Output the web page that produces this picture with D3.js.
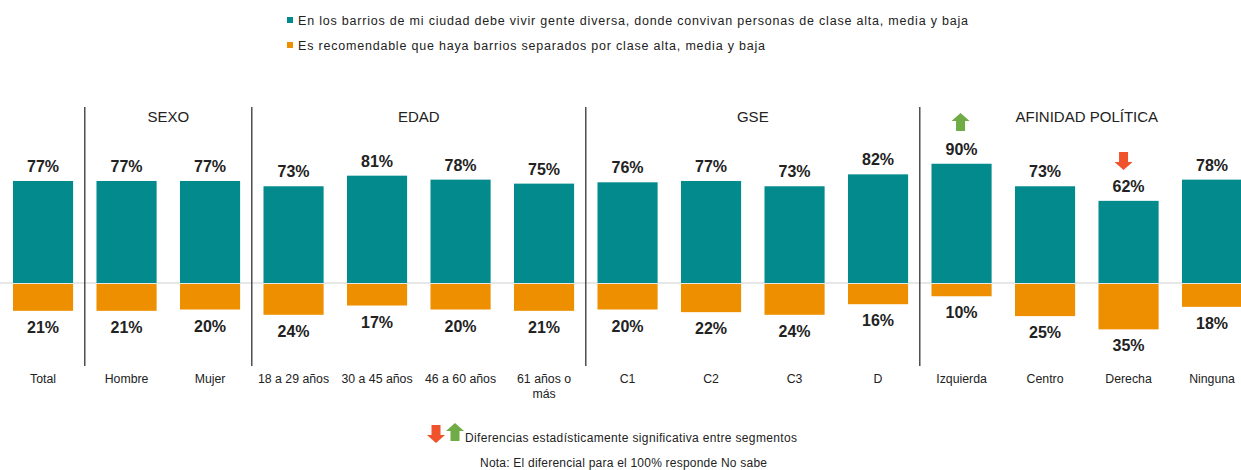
<!DOCTYPE html>
<html>
<head>
<meta charset="utf-8">
<script src="https://cdn.jsdelivr.net/npm/d3@7"></script>
<style>
  body { margin: 0; background: #fff; }
  text { font-family: "Liberation Sans", Arial, sans-serif; }
</style>
</head>
<body>
<div id="vis-container"></div>
<script>
// data
let categories = ["Total", "Hombre", "Mujer", "18 a 29 años", "30 a 45 años", "46 a 60 años", "61 años o más",
  "C1", "C2", "C3", "D", "Izquierda", "Centro", "Derecha", "Ninguna"];
let diversa = [77, 77, 77, 73, 81, 78, 75, 76, 77, 73, 82, 90, 73, 62, 78];
let separados = [21, 21, 20, 24, 17, 20, 21, 20, 22, 24, 16, 10, 25, 35, 18];
let groups = [
  {name: "SEXO", from: 1, to: 2},
  {name: "EDAD", from: 3, to: 6},
  {name: "GSE", from: 7, to: 10},
  {name: "AFINIDAD POLÍTICA", from: 11, to: 14}
];
let arrowsUp = ["Izquierda"];
let arrowsDown = ["Derecha"];
let legendLabels = [
  "En los barrios de mi ciudad debe vivir gente diversa, donde convivan personas de clase alta, media y baja",
  "Es recomendable que haya barrios separados por clase alta, media y baja"
];

let width = 1241, height = 470;
let teal = "#028a8d", orange = "#ee8f00", green = "#6fac46", red = "#f0532b";

let svg = d3.select("#vis-container")
  .append("svg")
  .attr("width", width)
  .attr("height", height);

let x = d3.scaleBand()
  .domain(categories)
  .range([1.3, 1253.8])
  .paddingInner(0.28)
  .paddingOuter(0.14);

let y = d3.scaleLinear()
  .domain([0, 100])
  .range([283, 150.5]);

let step = x.step();

// legend
let legend = svg.append("g");
let legendWidths = [670, 467];
legendLabels.forEach((t, i) => {
  let ly = 20 + i * 25;
  legend.append("rect")
    .attr("x", 287).attr("y", ly - 3)
    .attr("width", 6).attr("height", 6)
    .attr("fill", i == 0 ? teal : orange);
  legend.append("text")
    .attr("x", 298).attr("y", ly + 4.5)
    .attr("font-size", "12.5px")
    .attr("fill", "#222")
    .attr("textLength", legendWidths[i])
    .attr("lengthAdjust", "spacing")
    .text(t);
});

// zero line
svg.append("line")
  .attr("x1", 0).attr("x2", width)
  .attr("y1", y(0)).attr("y2", y(0))
  .attr("stroke", "#cfcfcf").attr("stroke-width", 1);

// group dividers
groups.forEach(g => {
  let dx = x(categories[g.from]) - step * x.paddingInner() / 2;
  svg.append("line")
    .attr("x1", dx).attr("x2", dx)
    .attr("y1", 107).attr("y2", 366)
    .attr("stroke", "#333").attr("stroke-width", 1.3);
  let cx = (x(categories[g.from]) + x(categories[g.to]) + x.bandwidth()) / 2;
  svg.append("text")
    .attr("x", cx).attr("y", 122)
    .attr("text-anchor", "middle")
    .attr("font-size", "15px")
    .attr("fill", "#222")
    .text(g.name);
});

// positive bars
svg.selectAll("rect.pos")
  .data(diversa)
  .enter()
  .append("rect")
  .attr("class", "pos")
  .attr("x", (d, i) => x(categories[i]))
  .attr("y", d => y(d))
  .attr("width", x.bandwidth())
  .attr("height", d => y(0) - y(d))
  .attr("fill", teal);

// negative bars
svg.selectAll("rect.neg")
  .data(separados)
  .enter()
  .append("rect")
  .attr("class", "neg")
  .attr("x", (d, i) => x(categories[i]))
  .attr("y", y(0) + 1)
  .attr("width", x.bandwidth())
  .attr("height", d => y(0) - y(d) - 1)
  .attr("fill", orange);

// value labels
svg.selectAll("text.vpos")
  .data(diversa)
  .enter()
  .append("text")
  .attr("class", "vpos")
  .attr("x", (d, i) => x(categories[i]) + x.bandwidth() / 2)
  .attr("y", d => y(d) - 9)
  .attr("text-anchor", "middle")
  .attr("font-size", "16px")
  .attr("font-weight", "bold")
  .attr("fill", "#222")
  .text(d => d + "%");

svg.selectAll("text.vneg")
  .data(separados)
  .enter()
  .append("text")
  .attr("class", "vneg")
  .attr("x", (d, i) => x(categories[i]) + x.bandwidth() / 2)
  .attr("y", d => 2 * y(0) - y(d) + 22)
  .attr("text-anchor", "middle")
  .attr("font-size", "16px")
  .attr("font-weight", "bold")
  .attr("fill", "#222")
  .text(d => d + "%");

// category labels
categories.forEach(c => {
  let t = svg.append("text")
    .attr("x", x(c) + x.bandwidth() / 2)
    .attr("y", 383)
    .attr("text-anchor", "middle")
    .attr("font-size", "12.3px")
    .attr("fill", "#222");
  if (c == "61 años o más") {
    t.append("tspan").attr("x", x(c) + x.bandwidth() / 2).text("61 años o");
    t.append("tspan").attr("x", x(c) + x.bandwidth() / 2).attr("dy", 15).text("más");
  } else {
    t.text(c);
  }
});

// arrows
function arrow(cx, top, up, color) {
  // 18 wide, 18 tall block arrow
  let pts = up
    ? [[0, 0], [9, 8], [4.5, 8], [4.5, 18], [-4.5, 18], [-4.5, 8], [-9, 8]]
    : [[0, 18], [9, 10], [4.5, 10], [4.5, 0], [-4.5, 0], [-4.5, 10], [-9, 10]];
  svg.append("polygon")
    .attr("points", pts.map(p => (cx + p[0]) + "," + (top + p[1])).join(" "))
    .attr("fill", color);
}
let iqIdx = categories.indexOf(arrowsUp[0]);
arrow(x(categories[iqIdx]) + x.bandwidth() / 2 - 1, 113, true, green);
let deIdx = categories.indexOf(arrowsDown[0]);
arrow(x(categories[deIdx]) + x.bandwidth() / 2 - 5, 152, false, red);

// footnotes
arrow(436, 425, false, red);
arrow(455, 423, true, green);
svg.append("text")
  .attr("x", 465).attr("y", 442)
  .attr("font-size", "12px")
  .attr("fill", "#222")
  .attr("textLength", 332)
  .attr("lengthAdjust", "spacing")
  .text("Diferencias estadísticamente significativa entre segmentos");
svg.append("text")
  .attr("x", 480).attr("y", 467)
  .attr("font-size", "12px")
  .attr("fill", "#222")
  .attr("textLength", 287)
  .attr("lengthAdjust", "spacing")
  .text("Nota: El diferencial para el 100% responde No sabe");
</script>
</body>
</html>
